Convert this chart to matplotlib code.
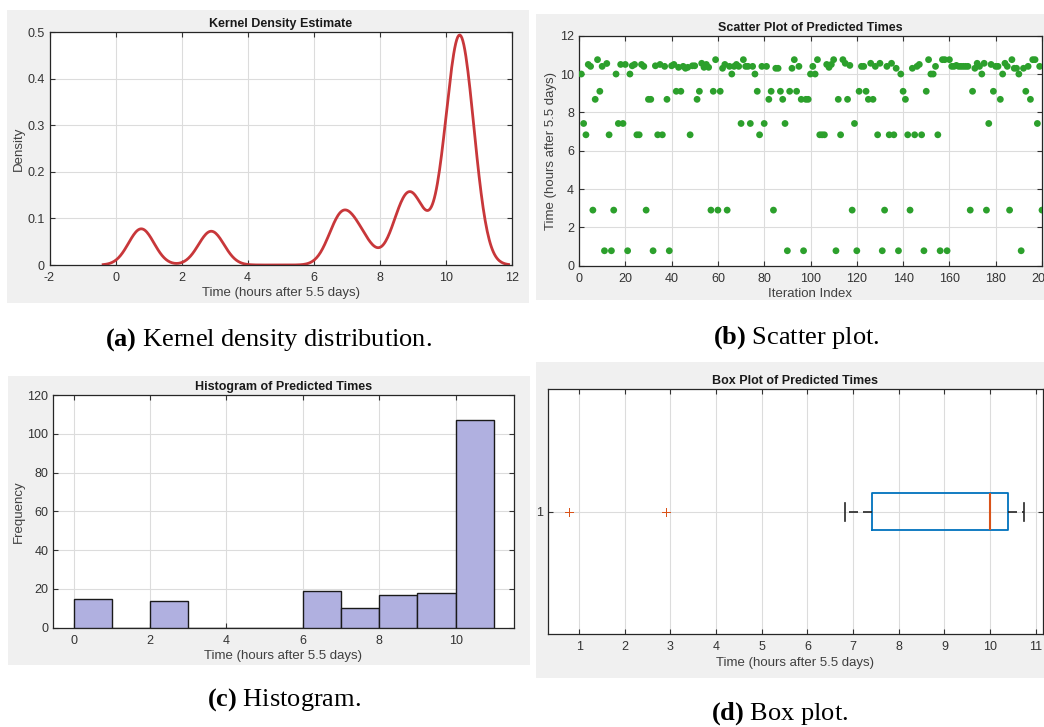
import numpy as np
import matplotlib.pyplot as plt
from matplotlib.patches import Rectangle
from matplotlib.ticker import FuncFormatter

plt.rcParams['font.family'] = 'Liberation Sans'
plt.rcParams['mathtext.fontset'] = 'custom'
plt.rcParams['mathtext.rm'] = 'Liberation Serif'
plt.rcParams['mathtext.bf'] = 'Liberation Serif:bold'

# predicted times (hours after 5.5 days), one value per iteration 1..200
times = [
    10.0, 7.42, 6.83, 10.5, 10.4, 2.9, 8.68, 10.75, 9.1, 10.4,
    0.78, 10.55, 6.83, 0.78, 2.9, 10.0, 7.42, 10.5, 7.42, 10.5,
    0.78, 10.0, 10.43, 10.5, 6.83, 6.83, 10.5, 10.4, 2.9, 8.68,
    8.68, 0.78, 10.43, 6.83, 10.5, 6.83, 10.4, 8.68, 0.78, 10.43,
    10.5, 9.1, 10.35, 9.1, 10.4, 10.3, 10.35, 6.83, 10.43, 10.43,
    8.68, 9.1, 10.56, 10.35, 10.5, 10.35, 2.9, 9.1, 10.75, 2.9,
    9.1, 10.3, 10.5, 2.9, 10.4, 10.0, 10.4, 10.5, 10.4, 7.42,
    10.75, 10.4, 10.4, 7.42, 10.4, 10.0, 9.1, 6.83, 10.4, 7.42,
    10.4, 8.68, 9.1, 2.9, 10.3, 10.3, 9.1, 8.68, 7.42, 0.78,
    9.1, 10.3, 10.75, 9.1, 10.4, 8.68, 0.78, 8.68, 8.68, 10.0,
    10.4, 10.0, 10.75, 6.83, 6.83, 6.83, 10.5, 10.35, 10.5, 10.75,
    0.78, 8.68, 6.83, 10.75, 10.56, 8.68, 10.45, 2.9, 7.42, 0.78,
    9.1, 10.4, 10.4, 9.1, 8.68, 10.56, 8.68, 10.4, 6.83, 10.56,
    0.78, 2.9, 10.4, 6.83, 10.56, 6.83, 10.3, 0.78, 10.0, 9.1,
    8.68, 6.83, 2.9, 10.3, 6.83, 10.4, 10.5, 6.83, 0.78, 9.1,
    10.75, 10.0, 10.0, 10.4, 6.83, 0.78, 10.75, 10.75, 0.78, 10.75,
    10.4, 10.4, 10.45, 10.4, 10.4, 10.4, 10.4, 10.4, 2.9, 9.1,
    10.3, 10.56, 10.4, 10.0, 10.56, 2.9, 7.42, 10.5, 9.1, 10.4,
    10.4, 8.68, 10.0, 10.56, 10.4, 2.9, 10.75, 10.3, 10.3, 10.0,
    0.78, 10.3, 9.1, 10.4, 8.68, 10.75, 10.75, 7.42, 10.4, 2.9,
]
iteration = np.arange(1, len(times) + 1)
kde_bandwidth = 0.385
hist_edges = np.arange(0, 12)

captions = [('(a)', 'Kernel density distribution.'),
            ('(b)', 'Scatter plot.'),
            ('(c)', 'Histogram.'),
            ('(d)', 'Box plot.')]

W, H = 1044, 727
fig = plt.figure(figsize=(W / 100, H / 100), dpi=100, facecolor='white')


def px_rect(l, t, r, b):
    return [l / W, 1 - b / H, (r - l) / W, (b - t) / H]


# grey window backgrounds behind each panel
for l, t, r, b in [(7, 10, 529, 303), (536, 14, 1044, 300),
                   (8, 376, 530, 665), (536, 362, 1044, 678)]:
    x0, y0, w, h = px_rect(l, t, r, b)
    fig.patches.append(Rectangle((x0, y0), w, h, transform=fig.transFigure,
                                 facecolor='#f0f0f0', edgecolor='none', zorder=-5))


def matlab_style(ax, title, xlabel, ylabel=None):
    ax.set_facecolor('white')
    ax.grid(True, color='#dcdcdc', lw=0.8)
    ax.set_axisbelow(True)
    ax.tick_params(direction='in', top=True, right=True, labelsize=9,
                   colors='#333333', length=3.5, width=0.8)
    ax.tick_params(axis='x', pad=5)
    ax.tick_params(axis='y', pad=3.5)
    for s in ax.spines.values():
        s.set_color('#262626')
        s.set_linewidth(0.9)
    ax.set_title(title, fontsize=9, fontweight='bold', pad=3.5, color='#1a1a1a')
    ax.set_xlabel(xlabel, fontsize=9.5, color='#404040', labelpad=2.5)
    if ylabel:
        ax.set_ylabel(ylabel, fontsize=9.5, color='#404040', labelpad=2)


gfmt = FuncFormatter(lambda v, p: '%g' % v)
t = np.array(times)

# (a) kernel density
ax1 = fig.add_axes(px_rect(49.5, 32.3, 511.7, 265))
grid = np.linspace(t.min() - 3 * kde_bandwidth, t.max() + 3 * kde_bandwidth, 400)
dens = np.exp(-0.5 * ((grid[:, None] - t[None, :]) / kde_bandwidth) ** 2).sum(1)
dens = dens / (len(t) * kde_bandwidth * np.sqrt(2 * np.pi))
ax1.plot(grid, dens, color='#c8373a', lw=2)
ax1.set_xlim(-2, 12)
ax1.set_ylim(0, 0.5)
ax1.set_xticks(np.arange(-2, 13, 2))
ax1.set_yticks(np.arange(0, 0.51, 0.1))
ax1.xaxis.set_major_formatter(gfmt)
ax1.yaxis.set_major_formatter(gfmt)
matlab_style(ax1, 'Kernel Density Estimate', 'Time (hours after 5.5 days)', 'Density')

# (b) scatter
ax2 = fig.add_axes(px_rect(579, 35.7, 1042, 265.7))
ax2.scatter(iteration, times, s=24, color='#2ca02c', edgecolors='none', zorder=3)
ax2.set_xlim(0, 200)
ax2.set_ylim(0, 12)
ax2.set_xticks(np.arange(0, 201, 20))
ax2.set_yticks(np.arange(0, 13, 2))
matlab_style(ax2, 'Scatter Plot of Predicted Times', 'Iteration Index',
             'Time (hours after 5.5 days)')

# (c) histogram
ax3 = fig.add_axes(px_rect(53.3, 395, 513.7, 627.7))
ax3.hist(times, bins=hist_edges, color='#b0b0e0', edgecolor='#1a1a1a', linewidth=1, zorder=3)
ax3.set_xlim(-0.53, 11.52)
ax3.set_ylim(0, 120)
ax3.set_xticks(np.arange(0, 11, 2))
ax3.set_yticks(np.arange(0, 121, 20))
matlab_style(ax3, 'Histogram of Predicted Times', 'Time (hours after 5.5 days)', 'Frequency')

# (d) box plot
ax4 = fig.add_axes(px_rect(547.7, 389.3, 1043, 634.3))
ax4.boxplot(times, orientation='horizontal', widths=0.15, whis=1.5,
            boxprops=dict(color='#0072bd', lw=1.3),
            medianprops=dict(color='#d95319', lw=1.5),
            whiskerprops=dict(color='#262626', lw=1.2, ls=(0, (5.4, 3))),
            capprops=dict(color='#262626', lw=1.2),
            flierprops=dict(marker='+', markeredgecolor='#d95319', markersize=5.5,
                            markeredgewidth=0.6))
ax4.set_xlim(0.31, 11.16)
ax4.set_ylim(0.5, 1.5)
ax4.set_xticks(np.arange(1, 12))
ax4.set_yticks([1])
ax4.set_yticklabels(['1'])
matlab_style(ax4, 'Box Plot of Predicted Times', 'Time (hours after 5.5 days)')

# captions below each panel
for (tag, text), (x, y) in zip(captions, [(105, 340), (713, 338), (207, 700), (711, 714)]):
    fig.text(x / W, 1 - y / H, r'$\mathbf{%s}$ %s' % (tag, text), family='Liberation Serif',
             fontsize=19, ha='left', va='center', color='black')

fig.savefig('out.png', dpi=100, facecolor='white')
